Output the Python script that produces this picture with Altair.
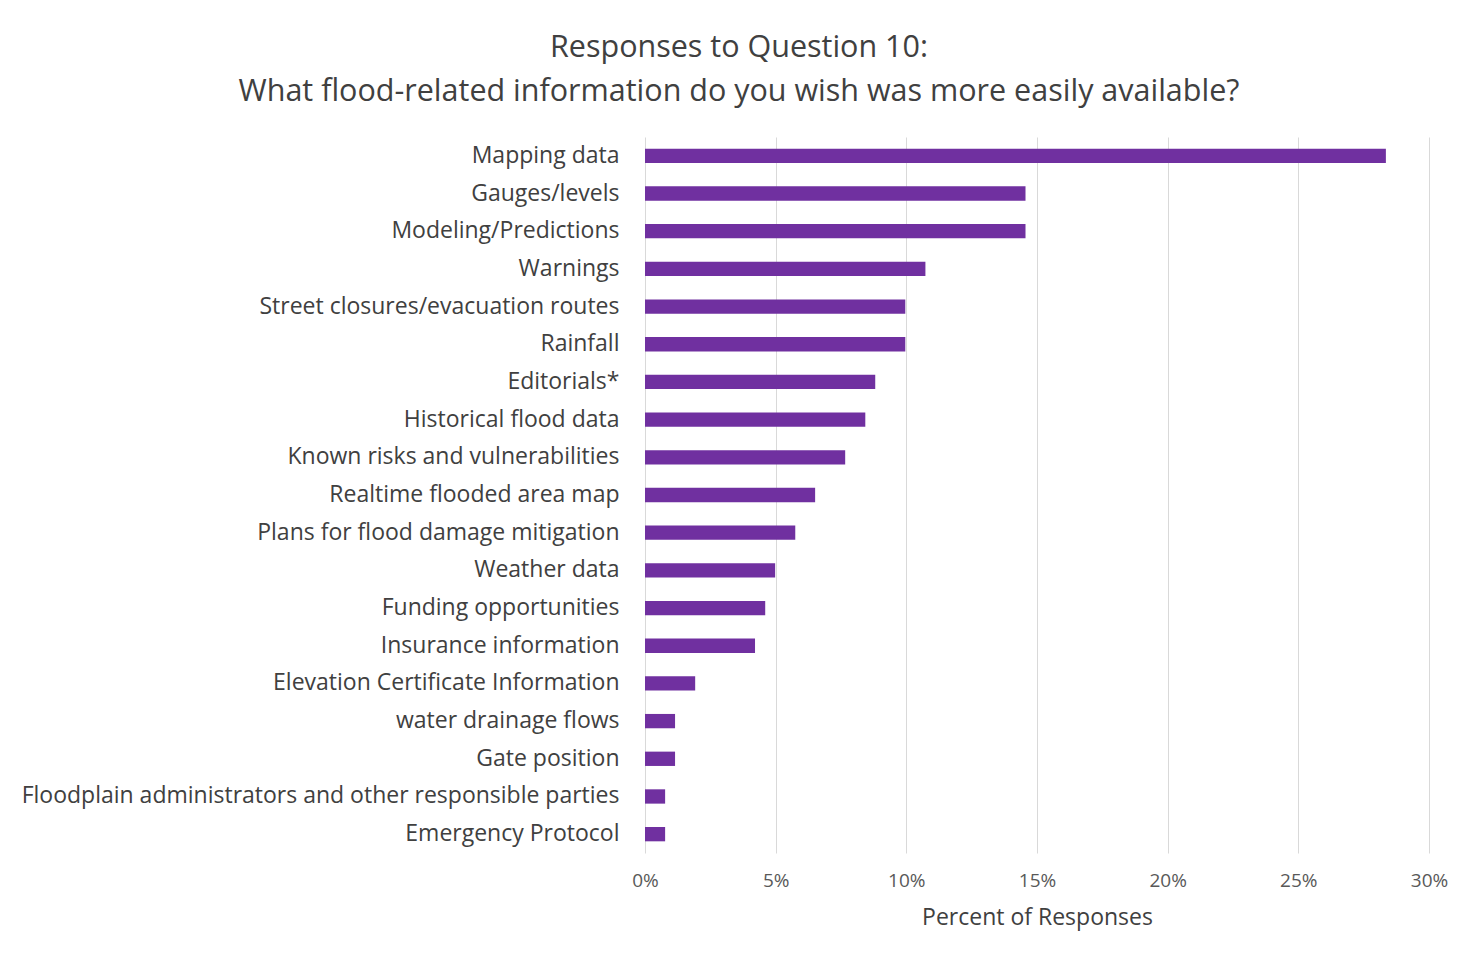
import altair as alt
import pandas as pd

categories = [
    "Mapping data", "Gauges/levels", "Modeling/Predictions", "Warnings",
    "Street closures/evacuation routes", "Rainfall", "Editorials*",
    "Historical flood data", "Known risks and vulnerabilities",
    "Realtime flooded area map", "Plans for flood damage mitigation",
    "Weather data", "Funding opportunities", "Insurance information",
    "Elevation Certificate Information", "water drainage flows",
    "Gate position", "Floodplain administrators and other responsible parties",
    "Emergency Protocol",
]
percents = [28.35, 14.56, 14.56, 10.73, 9.96, 9.96, 8.81, 8.43, 7.66, 6.51,
            5.75, 4.98, 4.60, 4.21, 1.92, 1.15, 1.15, 0.77, 0.77]
x_ticks = [0, 5, 10, 15, 20, 25, 30]
title_lines = ["Responses to Question 10:",
               "What flood-related information do you wish was more easily available?"]

df = pd.DataFrame({"category": categories, "percent": percents})

FONT = "Open Sans"
W, H = 784, 716

bars = alt.Chart(df).mark_bar(color="#7030A0").encode(
    y=alt.Y("category:N", sort=categories, scale=alt.Scale(paddingInner=0.62, paddingOuter=0.31),
            axis=alt.Axis(title=None, ticks=False, domain=False, labelFontSize=23,
                          labelColor="#404040", labelPadding=26, labelFont=FONT, labelLimit=700)),
    x=alt.X("percent:Q", scale=alt.Scale(domain=[0, 30], nice=False),
            axis=alt.Axis(values=x_ticks, labelExpr="datum.value + '%'", title="Percent of Responses",
                          titleFontSize=23, titleFontWeight="normal", titleColor="#404040",
                          titleFont=FONT, titlePadding=16, labelFlush=False,
                          labelFontSize=19, labelColor="#595959", labelFont=FONT, labelPadding=18,
                          ticks=False, domain=False, grid=True, gridColor="#d9d9d9")),
)

one = pd.DataFrame({"a": [0]})
BC = "#cccccc"
left = alt.Chart(one).mark_rule(color=BC, strokeWidth=2).encode(
    x=alt.value(-638), y=alt.value(-130), y2=alt.value(830))
right = alt.Chart(one).mark_rule(color=BC, strokeWidth=2).encode(
    x=alt.value(826), y=alt.value(-130), y2=alt.value(830))
top = alt.Chart(one).mark_rule(color=BC, strokeWidth=2).encode(
    x=alt.value(-638), x2=alt.value(826), y=alt.value(-130))

title1 = alt.Chart(one).mark_text(
    text=title_lines[0], font=FONT, fontSize=30.5, color="#404040", align="center", baseline="middle"
).encode(x=alt.value(94), y=alt.value(-89))
title2 = alt.Chart(one).mark_text(
    text=title_lines[1], font=FONT, fontSize=30.5, color="#404040", align="center", baseline="middle"
).encode(x=alt.value(94), y=alt.value(-45))

chart = alt.layer(left, right, top, bars, title1, title2).properties(
    width=W, height=H,
    padding={"left": 637, "top": 129, "right": 40, "bottom": 90},
    autosize=alt.AutoSizeParams(type="none"),
    background="white",
).configure_view(strokeWidth=0, stroke="transparent")

chart.save("out.html", embed_options={"renderer": "svg", "actions": False})
